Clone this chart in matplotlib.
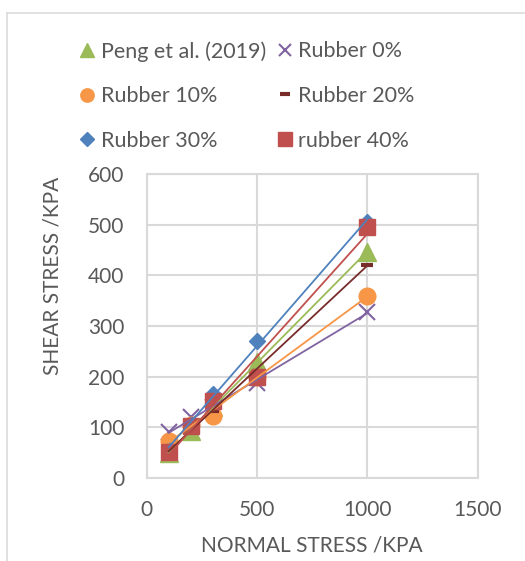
import matplotlib
matplotlib.use('Agg')
import matplotlib.pyplot as plt
import numpy as np
from matplotlib.lines import Line2D

plt.rcParams['font.family'] = ['Lato', 'DejaVu Sans']

# normal stress levels (kPa)
normal = [100, 200, 300, 500, 1000]

# shear stress (kPa)
peng = [50, 93, 140, 229, 446]
rubber0 = [90, 120, 140, 187, 328]
rubber10 = [74, 105, 123, 200, 359]
rubber20 = [50, 100, 132, 212, 420]
rubber30 = [55, 105, 166, 270, 505]
rubber40 = [52, 103, 152, 200, 496]

names = ['Peng et al. (2019)', 'Rubber 0%', 'Rubber 10%',
         'Rubber 20%', 'Rubber 30%', 'rubber 40%']
series = [peng, rubber0, rubber10, rubber20, rubber30, rubber40]
colors = ['#9BBB59', '#8064A2', '#F79646', '#772C2A', '#4F81BD', '#C0504D']
markers = ['^', 'x', 'o', '_', 'D', 's']
msizes = [12.5, 11, 12, 9, 8.5, 12]
mews = [1, 1.5, 1, 3, 1, 1]

grey = '#595959'
W, H = 525, 561
fig = plt.figure(figsize=(W / 100, H / 100), dpi=100)
ax = fig.add_axes([146.5 / W, 1 - 478 / H, 331 / W, 304 / H])

x = np.array(normal, dtype=float)
handles = []
for i, (y, name) in enumerate(zip(series, names)):
    ax.plot(x, y, linestyle='none', marker=markers[i], ms=msizes[i],
            color=colors[i], mew=mews[i], zorder=3 + i)
    # linear trendline, as in the original sheet
    k, b = np.polyfit(x, y, 1)
    xx = np.array([x.min(), x.max()])
    ax.plot(xx, k * xx + b, color=colors[i], lw=1.3, zorder=10)
    handles.append(Line2D([], [], linestyle='none', marker=markers[i],
                          ms=msizes[i] * 0.8, color=colors[i], mew=mews[i],
                          label=name))

ax.set_xlim(0, 1500)
ax.set_ylim(0, 600)
ax.set_xticks([0, 500, 1000, 1500])
ax.set_yticks(range(0, 601, 100))
ax.grid(True, color='#D9D9D9', lw=1.5)
ax.set_axisbelow(True)
for s in ax.spines.values():
    s.set_color('#D9D9D9')
    s.set_linewidth(1.5)
ax.tick_params(length=0, labelsize=15, labelcolor=grey)
ax.tick_params(axis='y', pad=16)
ax.tick_params(axis='x', pad=16)
ax.set_xlabel('NORMAL STRESS /KPA', fontsize=15, color=grey)
ax.set_ylabel('SHEAR STRESS /KPA', fontsize=15, color=grey)
ax.xaxis.set_label_coords((312 - 146.5) / 331, (478 - 535) / 304)
ax.yaxis.set_label_coords((63 - 146.5) / 331, (478 - 276) / 304)

# legend as two columns of three rows
leg_kw = dict(loc='center left', frameon=False, fontsize=15.5,
              labelcolor=grey, handlelength=0.8, handletextpad=0.22,
              labelspacing=1.14, borderaxespad=0, borderpad=0)
for col, left in ((0, 78.7), (1, 276.4)):
    idx = [col, col + 2, col + 4]
    fig.legend([handles[i] for i in idx], [names[i] for i in idx],
               bbox_to_anchor=(left / W, 1 - 96 / H), **leg_kw)

# outer chart frame
fig.add_artist(Line2D([7.3 / W, 7.3 / W], [0, 1 - 12.7 / H],
                      color='#D9D9D9', lw=1.1, transform=fig.transFigure))
fig.add_artist(Line2D([7.3 / W, 1], [1 - 12.7 / H, 1 - 12.7 / H],
                      color='#D9D9D9', lw=1.1, transform=fig.transFigure))

fig.savefig('out.png', dpi=100)
